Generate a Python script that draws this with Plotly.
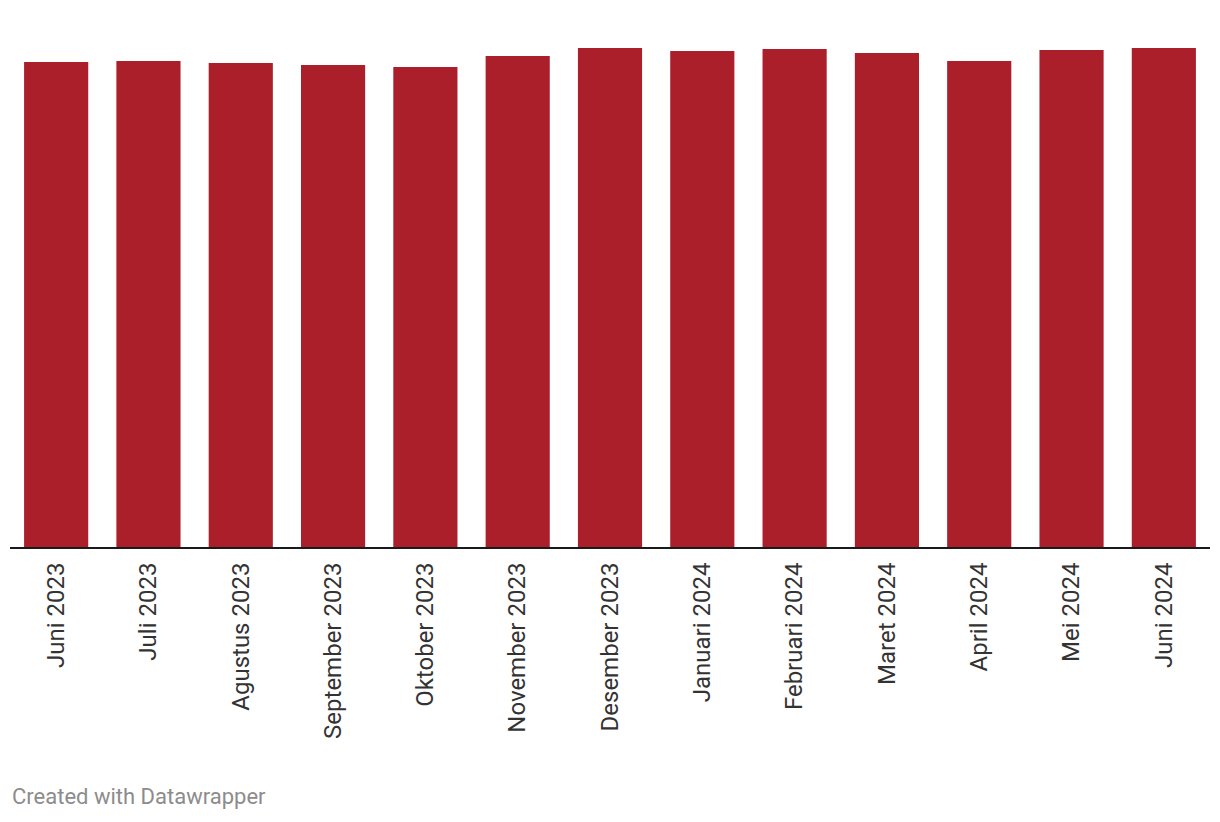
import plotly.graph_objects as go

months = ["Juni 2023", "Juli 2023", "Agustus 2023", "September 2023", "Oktober 2023",
          "November 2023", "Desember 2023", "Januari 2024", "Februari 2024", "Maret 2024",
          "April 2024", "Mei 2024", "Juni 2024"]
values = [485, 486, 484, 482, 480, 491, 499, 496, 498, 494, 486, 497, 499]

fig = go.Figure(go.Bar(x=months, y=values, marker=dict(color="#ab1f2b", line=dict(width=0)),
                       hoverinfo="x+y"))

fig.update_layout(
    width=1220, height=822,
    margin=dict(l=2, r=18, t=40, b=283),
    plot_bgcolor="white", paper_bgcolor="white",
    bargap=0.305,
    showlegend=False,
    font=dict(family="Roboto", color="#333333"),
    xaxis=dict(tickangle=-90, tickfont=dict(size=24, family="Roboto", color="#333333"),
               showline=True, linecolor="#1a1a1a", linewidth=2, ticks="outside", ticklen=4,
               tickcolor="rgba(0,0,0,0)",
               showgrid=False, fixedrange=True),
    yaxis=dict(range=[0, 499], visible=False, showgrid=False, zeroline=False, fixedrange=True),
    annotations=[dict(text="Created with Datawrapper", xref="paper", yref="paper",
                      x=0, y=-(797 - 547) / (547 - 48), xanchor="left", yanchor="middle",
                      showarrow=False, font=dict(size=22, color="#8c8c8c", family="Roboto"))],
)

fig.write_html("out.html")
